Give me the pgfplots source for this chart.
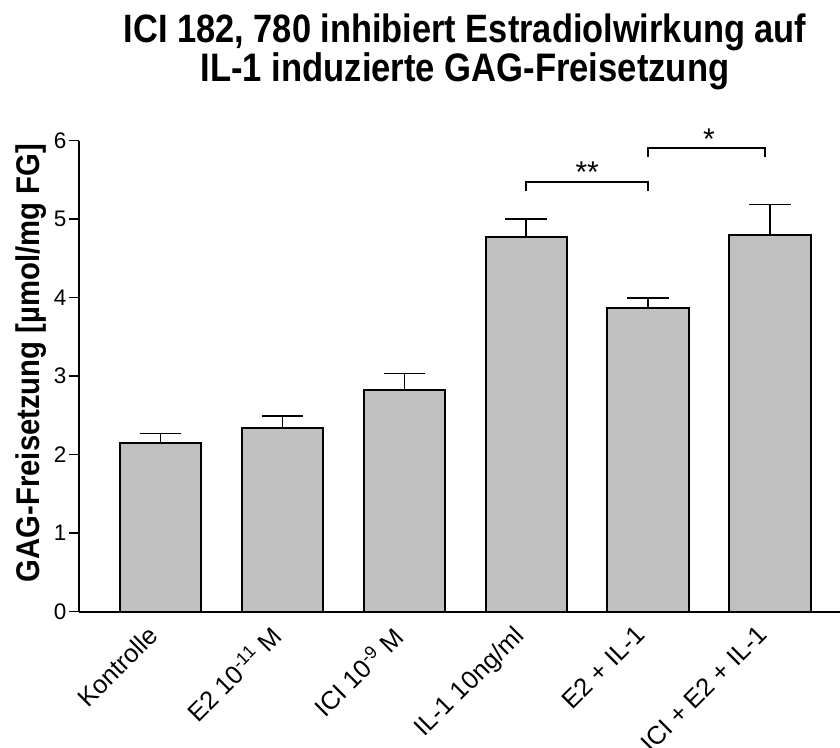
\documentclass[border=0pt]{standalone}
\usepackage{pgfplots}
\pgfplotsset{compat=1.18}
\usepackage{fontspec}
\setmainfont{Liberation Sans}
\definecolor{bargray}{RGB}{192,192,192}
\pgfplotstableread{
x y e
0 2.143 0.127
1 2.341 0.149
2 2.822 0.212
3 4.771 0.229
4 3.862 0.135
5 4.792 0.395
}\gagdata
\begin{document}
\begin{tikzpicture}[x=1pt,y=1pt]
\path[use as bounding box] (0,0) rectangle (840,747);
\node[anchor=base, font=\bfseries\fontsize{34.4}{40}\selectfont] at (465,704) {\scalebox{1}[1.15]{ICI 182, 780 inhibiert Estradiolwirkung auf}};
\node[anchor=base, font=\bfseries\fontsize{34.6}{40}\selectfont] at (465,665.3) {\scalebox{1}[1.15]{IL-1 induzierte GAG-Freisetzung}};
\node[anchor=base, rotate=90, font=\bfseries\fontsize{29.3}{34}\selectfont] at (39,384) {\scalebox{1}[1.12]{GAG-Freisetzung [µmol/mg FG]}};
\begin{axis}[
  at={(79pt,135.5pt)}, anchor=south west,
  scale only axis, width=761pt, height=471pt,
  xmin=-0.6686, xmax=5.574, ymin=0, ymax=6,
  axis lines*=left,
  axis line style={line width=2pt, black},
  ytick={0,1,2,3,4,5,6},
  xtick={0,1,2,3,4,5},
  xticklabels={{Kontrolle},{E2 10\textsuperscript{-11} M},{ICI 10\textsuperscript{-9} M},{IL-1 10ng/ml},{E2 + IL-1},{ICI + E2 + IL-1}},
  x tick label style={rotate=45, anchor=north east, font=\fontsize{25.5}{25}\selectfont, inner sep=0pt, xshift=-11.5pt, yshift=8.5pt},
  y tick label style={font=\fontsize{22.5}{22}\selectfont, inner sep=2.5pt},
  ytick pos=left, xtick pos=left,
  major tick length=10pt,
  tick align=outside,
  x tick style={draw=none},
  y tick style={line width=1.5pt, black},
  /pgf/number format/assume math mode=true,
  clip=false,
]
\addplot[ybar, bar width=81.4pt, fill=bargray, draw=black, line width=2pt,
  error bars/.cd, y dir=plus, y explicit,
  error bar style={line width=1.6pt, black},
  error mark options={rotate=90, mark size=20.8pt, line width=1.6pt, black}]
  table[x=x, y=y, y error=e] {\gagdata};
\addplot[black, line width=1.6pt, mark=none] coordinates {(3,5.357) (3,5.475) (4,5.475) (4,5.357)};
\addplot[black, line width=1.6pt, mark=none] coordinates {(4,5.79) (4,5.904) (4.96,5.904) (4.96,5.79)};
\node[anchor=base, font=\fontsize{30}{30}\selectfont, yshift=-1pt] at (axis cs:3.5,5.475) {**};
\node[anchor=base, font=\fontsize{30}{30}\selectfont, yshift=-1pt] at (axis cs:4.5,5.904) {*};
\end{axis}
\end{tikzpicture}
\end{document}
